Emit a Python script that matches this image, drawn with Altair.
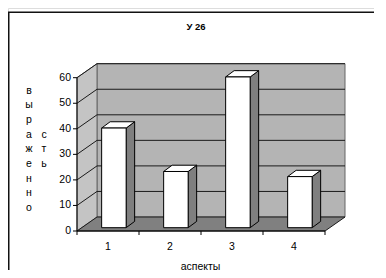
import altair as alt
import pandas as pd

# ---- data ----
categories = ["1", "2", "3", "4"]
values = [39, 22, 59, 20]
y_ticks = [0, 10, 20, 30, 40, 50, 60]
title_text = "У 26"
x_title = "аспекты"
y_title = "выраженность"

FONT = "Liberation Sans"

# ---- layout (pixel geometry expressed through the scales) ----
W, H = 366, 262
PX_X = 62.0          # px per category
PX_Y = 2.555         # px per value unit
X0_PX, Y0_PX = 69, 223   # svg position of (0.5, 0)
DX, DY = 20 / PX_X, 14 / PX_Y          # 3D depth of the walls
BFX, BFY = 5.9 / PX_X, 3.3 / PX_Y      # bar front plane offset
HW = 12.25 / PX_X                       # half bar width
BDX, BDY = 8.5 / PX_X, 6.3 / PX_Y      # bar depth

n = len(categories)
XL, XR = 0.5, n + 0.5
YMAX = max(y_ticks)

xs = alt.Scale(domain=[0.5 - X0_PX / PX_X, 0.5 + (W - X0_PX) / PX_X], nice=False, zero=False)
ys = alt.Scale(domain=[-(H - Y0_PX) / PX_Y, Y0_PX / PX_Y], nice=False, zero=False)


def X(f):
    return alt.X(f + ":Q", scale=xs, axis=None)


def Y(f):
    return alt.Y(f + ":Q", scale=ys, axis=None)


# walls
left_wall = pd.DataFrame({"x": [XL, XL + DX], "y": [0, DY], "y2": [YMAX, YMAX + DY]})
back_wall = pd.DataFrame({"x": [XL + DX], "x2": [XR + DX], "y": [DY], "y2": [YMAX + DY]})
floor = pd.DataFrame({"y": [0, DY], "x": [XL, XL + DX], "x2": [XR, XR + DX]})

grid_vals = [v for v in y_ticks if v > 0]
back_grid = pd.DataFrame({"x": XL + DX, "x2": XR + DX, "y": [v + DY for v in grid_vals]})
side_grid = pd.DataFrame({"x": XL, "x2": XL + DX, "y": grid_vals, "y2": [v + DY for v in grid_vals]})

# bars
front_rows, side_rows, top_rows = [], [], []
for i, (c, v) in enumerate(zip(categories, values)):
    cx = i + 1 + BFX
    xl, xr = cx - HW, cx + HW
    y0, yt = BFY, BFY + v
    front_rows.append({"id": c, "x": xl, "x2": xr, "y": y0, "y2": yt})
    side_rows += [{"id": c, "x": xr, "y": y0, "y2": yt},
                  {"id": c, "x": xr + BDX, "y": y0 + BDY, "y2": yt + BDY}]
    top_rows += [{"id": c, "y": yt, "x": xl, "x2": xr},
                 {"id": c, "y": yt + BDY, "x": xl + BDX, "x2": xr + BDX}]
front = pd.DataFrame(front_rows)
side = pd.DataFrame(side_rows)
top = pd.DataFrame(top_rows)

# axes
yaxis_line = pd.DataFrame({"x": [XL], "y": [0], "y2": [YMAX]})
xaxis_line = pd.DataFrame({"x": [XL], "x2": [XR], "y": [0]})
ytick_df = pd.DataFrame({"v": y_ticks, "x": XL - 4 / PX_X, "x2": XL, "lab": [str(t) for t in y_ticks]})
xtick_df = pd.DataFrame({"x": [XL + k for k in range(n + 1)], "y": 0, "y2": -4 / PX_Y})
xlab_df = pd.DataFrame({"c": [i + 1 for i in range(n)], "lab": categories})
one = pd.DataFrame({"a": [0]})

LINE = "#1a1a1a"
LH = 14.7

layers = [
    # chart-area border (left and top edges are the visible ones)
    alt.Chart(one).mark_rule(color="#111", strokeWidth=1.5).encode(
        x=alt.value(0.75), y=alt.value(4.3), y2=alt.value(H)),
    alt.Chart(one).mark_rule(color="#111", strokeWidth=1.5).encode(
        x=alt.value(0), x2=alt.value(W), y=alt.value(4.3)),
    alt.Chart(back_wall).mark_rect(fill="#b4b4b4", stroke="#666", strokeWidth=1).encode(
        x=X("x"), x2="x2", y=Y("y"), y2="y2"),
    alt.Chart(left_wall).mark_area(orient="vertical", fill="#c4c4c4", stroke="#666", strokeWidth=1).encode(
        x=X("x"), y=Y("y"), y2="y2"),
    alt.Chart(floor).mark_area(orient="horizontal", fill="#808080", stroke=LINE, strokeWidth=1).encode(
        y=Y("y"), x=X("x"), x2="x2"),
    alt.Chart(back_grid).mark_rule(color=LINE, strokeWidth=1).encode(x=X("x"), x2="x2", y=Y("y")),
    alt.Chart(side_grid).mark_rule(color=LINE, strokeWidth=1).encode(x=X("x"), x2="x2", y=Y("y"), y2="y2"),
    alt.Chart(side).mark_area(orient="vertical", fill="#7f7f7f", stroke="#000", strokeWidth=1).encode(
        x=X("x"), y=Y("y"), y2="y2", detail="id:N"),
    alt.Chart(top).mark_area(orient="horizontal", fill="#ffffff", stroke="#000", strokeWidth=1).encode(
        y=Y("y"), x=X("x"), x2="x2", detail="id:N"),
    alt.Chart(front).mark_rect(fill="#ffffff", stroke="#000", strokeWidth=1).encode(
        x=X("x"), x2="x2", y=Y("y"), y2="y2"),
    alt.Chart(yaxis_line).mark_rule(color="#000", strokeWidth=1).encode(x=X("x"), y=Y("y"), y2="y2"),
    alt.Chart(xaxis_line).mark_rule(color="#000", strokeWidth=1).encode(x=X("x"), x2="x2", y=Y("y")),
    alt.Chart(ytick_df).mark_rule(color="#000", strokeWidth=1).encode(x=X("x"), x2="x2", y=Y("v")),
    alt.Chart(xtick_df).mark_rule(color="#000", strokeWidth=1).encode(x=X("x"), y=Y("y"), y2="y2"),
    alt.Chart(ytick_df).mark_text(align="right", baseline="middle", font=FONT, fontSize=10.5, color="#000").encode(
        x=alt.value(63), y=Y("v"), text="lab:N"),
    alt.Chart(xlab_df).mark_text(align="center", baseline="middle", font=FONT, fontSize=10.5, color="#000").encode(
        x=X("c"), y=alt.value(238.5), text="lab:N"),
    alt.Chart(one).mark_text(text=title_text, align="center", baseline="middle", font=FONT,
                             fontSize=9.5, fontWeight="bold", color="#000").encode(
        x=alt.value(188), y=alt.value(18.5)),
    alt.Chart(one).mark_text(text=x_title, align="center", baseline="alphabetic", font=FONT,
                             fontSize=10.5, color="#000").encode(
        x=alt.value(192.5), y=alt.value(261.5)),
    # vertical (stacked) axis title, wrapped into two centred columns
    alt.Chart(one).mark_text(text=list(y_title[:9]), align="center", baseline="middle", font=FONT,
                             fontSize=10.5, lineHeight=LH, color="#000").encode(
        x=alt.value(21), y=alt.value(141.3 - 4 * LH)),
    alt.Chart(one).mark_text(text=list(y_title[9:]), align="center", baseline="middle", font=FONT,
                             fontSize=10.5, lineHeight=LH, color="#000").encode(
        x=alt.value(36), y=alt.value(141.3 - LH)),
]

chart = alt.layer(*layers).properties(
    width=W, height=H, autosize=alt.AutoSizeParams(type="none"), padding=0
).configure_view(stroke="transparent", strokeWidth=0).configure(background="white")

chart.save("out.html", embed_options={"renderer": "svg", "actions": False})
